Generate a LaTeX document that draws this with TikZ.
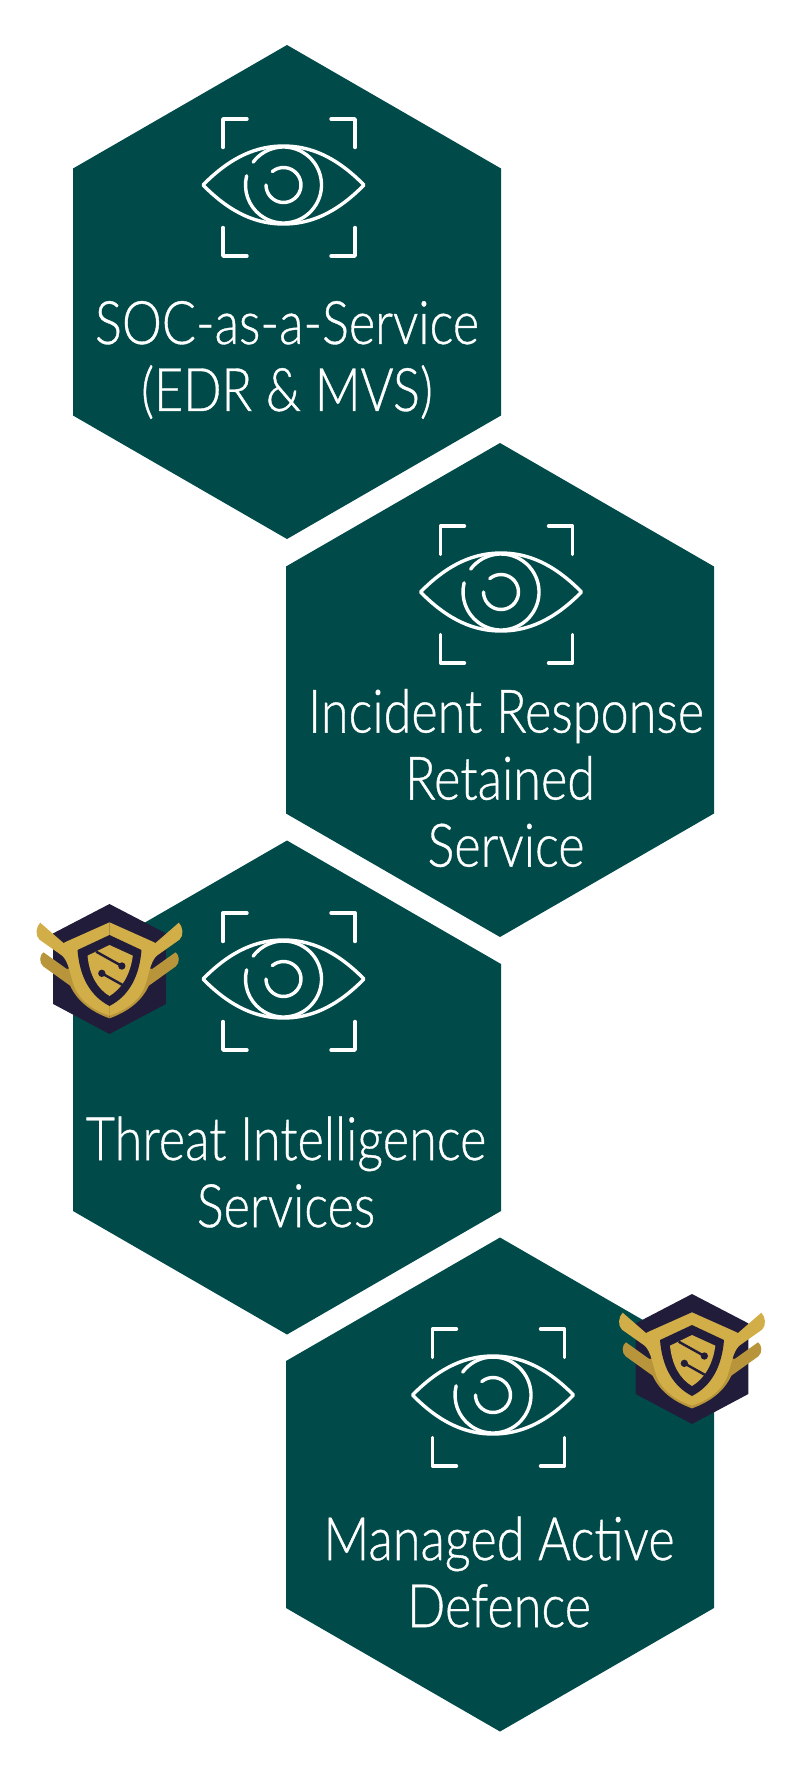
\documentclass[tikz,border=0pt]{standalone}
\usepackage{fontspec}
\setmainfont{Lato}[UprightFont=* Light, FakeStretch=.84, FakeBold=.6]
\usepackage{tikz}
\usetikzlibrary{positioning}
\definecolor{hexgreen}{HTML}{004B4A}
\definecolor{badgedark}{HTML}{211C3A}
\definecolor{goldlight}{HTML}{D2AE48}
\definecolor{golddark}{HTML}{B8953B}
\tikzset{
    celllabel/.style={text=white, align=center, inner sep=0pt, font=\fontsize{60}{67}\selectfont},
    iconline/.style={draw=white, line width=3.4pt, line cap=round, line join=round},
    hexcell/.pic={
        \fill[hexgreen] (0,-247)--(214,-123.5)--(214,123.5)--(0,247)--(-214,123.5)--(-214,-123.5)--cycle;
    },
    eyeicon/.pic={
        \draw[iconline] (-80.5,0) .. controls (-52,-29) and (-26,-39) .. (0,-39) .. controls (26,-39) and (52,-29) .. (80.5,0) .. controls (52,29) and (26,39) .. (0,39) .. controls (-26,39) and (-52,29) .. (-80.5,0) -- cycle;
        \draw[iconline] (143:38pt) arc[start angle=143, end angle=-194, radius=38pt];
        \draw[iconline] (130:17.5pt) arc[start angle=130, end angle=-180, radius=17.5pt];
        \foreach \sx in {1,-1}
        \foreach \sy in {1,-1}
        {
            \draw[iconline, shift={(5.5,2.5)}] (\sx*42,\sy*68.5)--(\sx*66,\sy*68.5)--(\sx*66,\sy*40);
        }
    },
    badgeicon/.pic={
        \begin{scope}[scale=.3333]
        \fill[badgedark] (0,-195)--(169,-107)--(169,105)--(0,195)--(-169,105)--(-169,-107)--cycle;
        \foreach \sx in {1,-1}
        {
            \begin{scope}[xscale=\sx]
            % lower wing
            \fill[golddark] (-198,-50) .. controls (-210,-44) and (-212,-18) .. (-199,-8) -- (-118,50) .. controls (-95,100) and (-50,130) .. (0,148) -- (0,60) -- (-105,-6) -- (-128,0) -- cycle;
            % upper wing and chevron
            \fill[goldlight] (-208,-139) .. controls (-220,-128) and (-224,-100) .. (-210,-88) -- (-142,-40) .. controls (-122,-22) and (-118,20) .. (-105,55) .. controls (-85,100) and (-45,125) .. (0,140) -- (0,-140) -- (-130,-82) -- (-138,-78) -- cycle;
            \end{scope}
        }
        \fill[badgedark] (0,-102)--(-96,-57) .. controls (-90,20) and (-60,80) .. (0,111) .. controls (60,80) and (90,20) .. (96,-57)--cycle;
        \fill[goldlight] (0,-72)--(-66,-40) .. controls (-60,20) and (-35,60) .. (0,81) .. controls (35,60) and (62,20) .. (70,-40)--cycle;
        \draw[badgedark, line width=2.4pt] (-40,-52)--(37,-9);
        \fill[badgedark] (37,-9) circle[radius=11pt];
        \draw[badgedark, line width=2.4pt] (-23,13)--(52,55);
        \fill[badgedark] (-23,13) circle[radius=11pt];
        \end{scope}
    }
}
\begin{document}
\begin{tikzpicture}[x=1pt, y=-1pt]
    \useasboundingbox (0,0) rectangle (800,1775);

    \pic at (287,292) {hexcell};
    \pic at (500,690) {hexcell};
    \pic at (287,1087.5) {hexcell};
    \pic at (500,1484.5) {hexcell};

    \foreach \ex/\ey in {283.5/185, 501/592, 283.5/979, 493/1395}
    {
        \pic at (\ex,\ey) {eyeicon};
    }

    \node[celllabel] (soc) at (287,360) {SOC-as-a-Service\\(EDR \& MVS)};
    \node[celllabel] (incident) at (500,778) {\hspace*{12pt}Incident Response\\Retained\\\hspace*{12pt}Service};
    \node[celllabel] (threat) at (286,1172) {Threat Intelligence\\Services};
    \node[celllabel] (managed) at (499,1572) {Managed Active\\Defence};

    \pic at (109.5,969) {badgeicon};
    \pic at (692,1359) {badgeicon};
\end{tikzpicture}
\end{document}
